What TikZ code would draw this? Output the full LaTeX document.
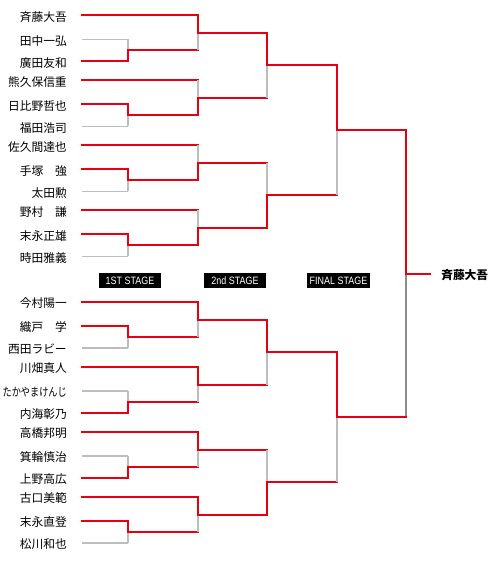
\documentclass[tikz,border=0pt]{standalone}
\usepackage{fontspec}
\usepackage{graphicx}
\usetikzlibrary{calc}
\newfontfamily\jpfont{Noto Sans CJK JP}
\newfontfamily\stagefont[FakeStretch=0.84]{Liberation Sans}
\definecolor{winred}{HTML}{E60012}
\definecolor{losegray}{HTML}{BDBDBD}
\definecolor{finalgray}{HTML}{8C8C8C}

\begin{document}
\begin{tikzpicture}[
        x=0.75pt, y=-0.75pt,
        player/.style={anchor=east, inner xsep=11.25pt, inner ysep=0pt, text height=8.8pt, text depth=0pt, font=\jpfont\fontsize{8.8pt}{10pt}\selectfont},
        champ/.style={anchor=west, inner xsep=8.25pt, inner ysep=0pt, text height=8.8pt, text depth=0pt, font=\jpfont\bfseries\fontsize{8.8pt}{10pt}\selectfont},
        stage/.style={fill=black, text=white, minimum width=47pt, minimum height=10.8pt, inner sep=0pt, font=\stagefont\fontsize{8pt}{8pt}\selectfont},
        win/.style={draw=winred, line width=1.5pt, line cap=rect},
        lose/.style={draw=losegray, line width=1.2pt}
    ]
        \useasboundingbox (0,0) rectangle (500,580);

        \foreach \n/\y/\t in {
            1/15.5/斉藤大吾, 2/39.5/田中一弘, 3/61.5/廣田友和,
            4/80.5/熊久保信重, 5/104.5/日比野哲也, 6/126.5/福田浩司,
            7/145.5/佐久間達也, 8/169.5/手塚　強, 9/191.5/太田勲,
            10/210.5/野村　謙, 11/234.5/末永正雄, 12/256.5/時田雅義,
            13/302/今村陽一, 14/326/織戸　学, 15/348/西田ラビー,
            16/367/川畑真人, 17/391/{\scalebox{0.78}[1]{たかやまけんじ}}, 18/413/内海彰乃,
            19/432/高橋邦明, 20/456/箕輪慎治, 21/478/上野高広,
            22/497/古口美範, 23/521/末永直登, 24/543/松川和也}
            \node[player] (p\n) at (82,\y) {\t};

        \coordinate (c1) at (128,0);
        \coordinate (c2) at (198,0);
        \coordinate (c3) at (267,0);
        \coordinate (c4) at (337,0);
        \coordinate (c5) at (406,0);
        \coordinate (c6) at (430,0);

        \foreach \wi/\lo/\col/\out/\hs in {
            p3/p2/c1/m1/lose, p5/p6/c1/m2/lose, p8/p9/c1/m3/lose, p11/p12/c1/m4/lose,
            p14/p15/c1/m5/lose, p18/p17/c1/m6/lose, p21/p20/c1/m7/lose, p23/p24/c1/m8/lose,
            p1/m1/c2/s1/win, m2/p4/c2/s2/win, m3/p7/c2/s3/win, m4/p10/c2/s4/win,
            p13/m5/c2/s5/win, p16/m6/c2/s6/win, p19/m7/c2/s7/win, p22/m8/c2/s8/win,
            s1/s2/c3/t1/win, s4/s3/c3/t2/win, s5/s6/c3/t3/win, s8/s7/c3/t4/win,
            t1/t2/c4/u1/win, t3/t4/c4/u2/win}{
            \coordinate (\out) at ($(\wi -| \col)!.5!(\lo -| \col)$);
            \draw[\hs] (\lo) -- (\lo -| \col);
            \draw[lose] (\lo -| \col) -- (\out);
            \draw[win] (\wi) -- (\wi -| \col) -- (\out);
        }

        \coordinate (v) at ($(u1 -| c5)!.5!(u2 -| c5)$);
        \node[champ] (champ) at (v -| c6) {斉藤大吾};
        \draw[lose, draw=finalgray] (u2 -| c5) -- (v);
        \draw[win] (u2) -- (u2 -| c5);
        \draw[win] (u1) -- (u1 -| c5) -- (v) -- (champ);

        \node[stage] (st1) at (130,280.5) {1ST STAGE};
        \node[stage] (st2) at (235,280.5) {2nd STAGE};
        \node[stage] (st3) at (338.5,280.5) {FINAL STAGE};
\end{tikzpicture}
\end{document}
